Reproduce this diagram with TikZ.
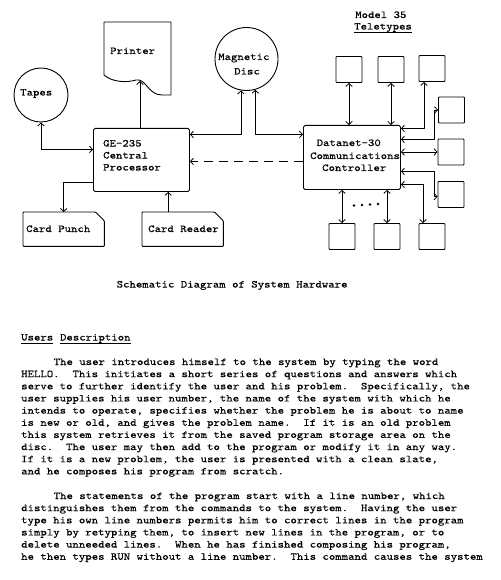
\documentclass[tikz,border=0pt]{standalone}
\usepackage{fontspec}
\newfontfamily\tw{lmmono10-regular.otf}[FakeStretch=1.163,FakeBold=0.3]
\usetikzlibrary{arrows.meta}
\begin{document}
\begin{tikzpicture}[x=1pt,y=-1pt,line join=round,
  txt/.style={font=\tw\fontsize{10.5pt}{12pt}\selectfont\frenchspacing, inner sep=0pt, anchor=base west},
  boxline/.style={draw, line width=0.9pt},
  procbox/.style={boxline, rounded corners=1.5pt, inner sep=0pt, anchor=north west},
  tty/.style={boxline, rounded corners=0.8pt, minimum width=26pt, minimum height=26pt, inner sep=0pt},
  holder/.style={inner sep=0pt, anchor=north west},
  conn/.style={line width=0.8pt},
  arr/.style={conn, -{Straight Barb[length=3pt,width=6.5pt]}},
  dbl/.style={conn, {Straight Barb[length=3pt,width=6.5pt]}-{Straight Barb[length=3pt,width=6.5pt]}},
  uline/.style={line width=0.6pt}
]
\fill[white] (0,0) rectangle (500,580);
\useasboundingbox (0,0) rectangle (500,580);

% ---------- devices ----------
\node[holder, minimum width=67pt, minimum height=73pt] (prt) at (104,22) {};
\draw[boxline] (104,22) -- (171,22) -- (171,95) -- (162,95)
  .. controls (148,95) and (146,78) .. (136,80)
  .. controls (126,83) and (112,82) .. (104,75) -- cycle;
\coordinate (prtb) at (140,81);

\node[boxline, circle, minimum size=63pt, inner sep=0pt] (disc) at (246.5,59) {};
\node[boxline, circle, minimum size=54pt, inner sep=0pt] (tapes) at (41,95) {};

\node[procbox, minimum width=96pt, minimum height=63pt] (ge) at (93,128) {};
\node[procbox, minimum width=97pt, minimum height=64pt] (dn) at (303,125) {};

\node[holder, minimum width=81pt, minimum height=34pt] (cp) at (23,212) {};
\draw[boxline, rounded corners=0.8pt] (cp.north west) -- ([xshift=-9pt]cp.north east) -- ([yshift=-9pt]cp.north east) -- (cp.south east) -- (cp.south west) -- cycle;
\node[holder, minimum width=81pt, minimum height=34pt] (cr) at (142,212) {};
\draw[boxline, rounded corners=0.8pt] (cr.north west) -- ([xshift=-9pt]cr.north east) -- ([yshift=-9pt]cr.north east) -- (cr.south east) -- (cr.south west) -- cycle;

% teletypes
\node[tty] (t1) at (349,69.5) {};
\node[tty] (t2) at (391,69.5) {};
\node[tty] (t3) at (432,68.5) {};
\node[tty] (t4) at (451.5,110) {};
\node[tty] (t5) at (451,152) {};
\node[tty] (t6) at (451,194.5) {};
\node[tty] (t7) at (342,236.5) {};
\node[tty] (t8) at (387,236.5) {};
\node[tty] (t9) at (432,236.5) {};

% ---------- connectors ----------
\draw[arr] (prtb |- ge.north) -- (prtb);
\draw[dbl] (tapes.south) |- ([yshift=10.5pt]ge.west);
\draw[dbl] (disc.-100) |- ([yshift=25.5pt]ge.east);
\draw[dbl] (disc.-74) |- ([yshift=23pt]dn.west);
\draw[arr, dash pattern=on 9pt off 6pt] ([yshift=-4pt]dn.west) -- ([yshift=-4pt]dn.west -| ge.east);
\draw[arr] ([yshift=-22.5pt]ge.west) -| (cp.north);
\draw[arr] ([xshift=-14.5pt]cr.north) -- ([xshift=-14.5pt]cr.north |- ge.south);

\draw[dbl] (t1.south) -- (t1.south |- dn.north);
\draw[dbl] (t2.south) -- (t2.south |- dn.north);
\draw[dbl] ([xshift=-8pt]t3.south) |- ([yshift=29pt]dn.east);
\draw[dbl] ([yshift=18pt]dn.east) -- ++(33,0) |- (t4.west);
\draw[dbl] (t5.west -| dn.east) -- (t5.west);
\draw[dbl] ([yshift=-14pt]dn.east) -- ++(33,0) |- ([yshift=-2pt]t6.west);
\draw[dbl] ([yshift=-27pt]dn.east) -| ([xshift=-9pt]t9.north);
\draw[dbl] (t7.north) -- (t7.north |- dn.south);
\draw[dbl] (t8.north) -- (t8.north |- dn.south);
\foreach \x/\y in {354/205.5,362/205,370/204.5,378/204} \fill (\x,\y) circle (1.3pt);

% ---------- labels ----------
\node[txt] (lmodel) at (355,18) {Model 35};
\node[txt] (ltel) at (354,29.5) {Teletypes};
\draw[uline] ([yshift=-2.5pt]ltel.base west) -- ([yshift=-2.5pt]ltel.base east);
\node[txt] (lprt) at (110,54) {Printer};
\node[txt] (lmag) at (218,60) {Magnetic};
\node[txt] (ldisc) at (234,74.5) {Disc};
\node[txt] (ltapes) at (20,95.5) {Tapes};
\node[txt] (lge1) at (103,146.5) {GE-235};
\node[txt] (lge2) at (103,158.5) {Central};
\node[txt] (lge3) at (103,170.5) {Processor};
\node[txt] (ldn1) at (316.5,146) {Datanet-30};
\node[txt] (ldn2) at (310,159) {Communications};
\node[txt] (ldn3) at (322,171) {Controller};
\node[txt] (lcp) at (26,232) {Card Punch};
\node[txt] (lcr) at (148,232) {Card Reader};
\node[txt] (cap) at (116.5,287.5) {Schematic Diagram of System Hardware};

% ---------- text ----------
\node[txt] (uw1) at (21,340.5) {Users};
\node[txt] (uw2) at ([xshift=6.41pt]uw1.base east) {Description};
\draw[uline] ([yshift=-2.5pt]uw1.base west) -- ([yshift=-2.5pt]uw1.base east);
\draw[uline] ([yshift=-2.5pt]uw2.base west) -- ([yshift=-2.5pt]uw2.base east);

\node[txt] (p1) at (53.5,365) {The user introduces himself to the system by typing the word};
\node[txt] (p2) at (21,377.15) {HELLO.\ \ This initiates a short series of questions and answers which};
\node[txt] (p3) at (21,389.3) {serve to further identify the user and his problem.\ \ Specifically, the};
\node[txt] (p4) at (21,401.45) {user supplies his user number, the name of the system with which he};
\node[txt] (p5) at (21,413.6) {intends to operate, specifies whether the problem he is about to name};
\node[txt] (p6) at (21,425.75) {is new or old, and gives the problem name.\ \ If it is an old problem};
\node[txt] (p7) at (21,437.9) {this system retrieves it from the saved program storage area on the};
\node[txt] (p8) at (21,450.05) {disc.\ \ The user may then add to the program or modify it in any way.};
\node[txt] (p9) at (21,462.2) {If it is a new problem, the user is presented with a clean slate,};
\node[txt] (p10) at (21,474.35) {and he composes his program from scratch.};

\node[txt] (q1) at (53.5,499) {The statements of the program start with a line number, which};
\node[txt] (q2) at (21,511.15) {distinguishes them from the commands to the system.\ \ Having the user};
\node[txt] (q3) at (21,523.3) {type his own line numbers permits him to correct lines in the program};
\node[txt] (q4) at (21,535.45) {simply by retyping them, to insert new lines in the program, or to};
\node[txt] (q5) at (21,547.6) {delete unneeded lines.\ \ When he has finished composing his program,};
\node[txt] (q6) at (21,559.75) {he then types RUN without a line number.\ \ This command causes the system};
\end{tikzpicture}
\end{document}
